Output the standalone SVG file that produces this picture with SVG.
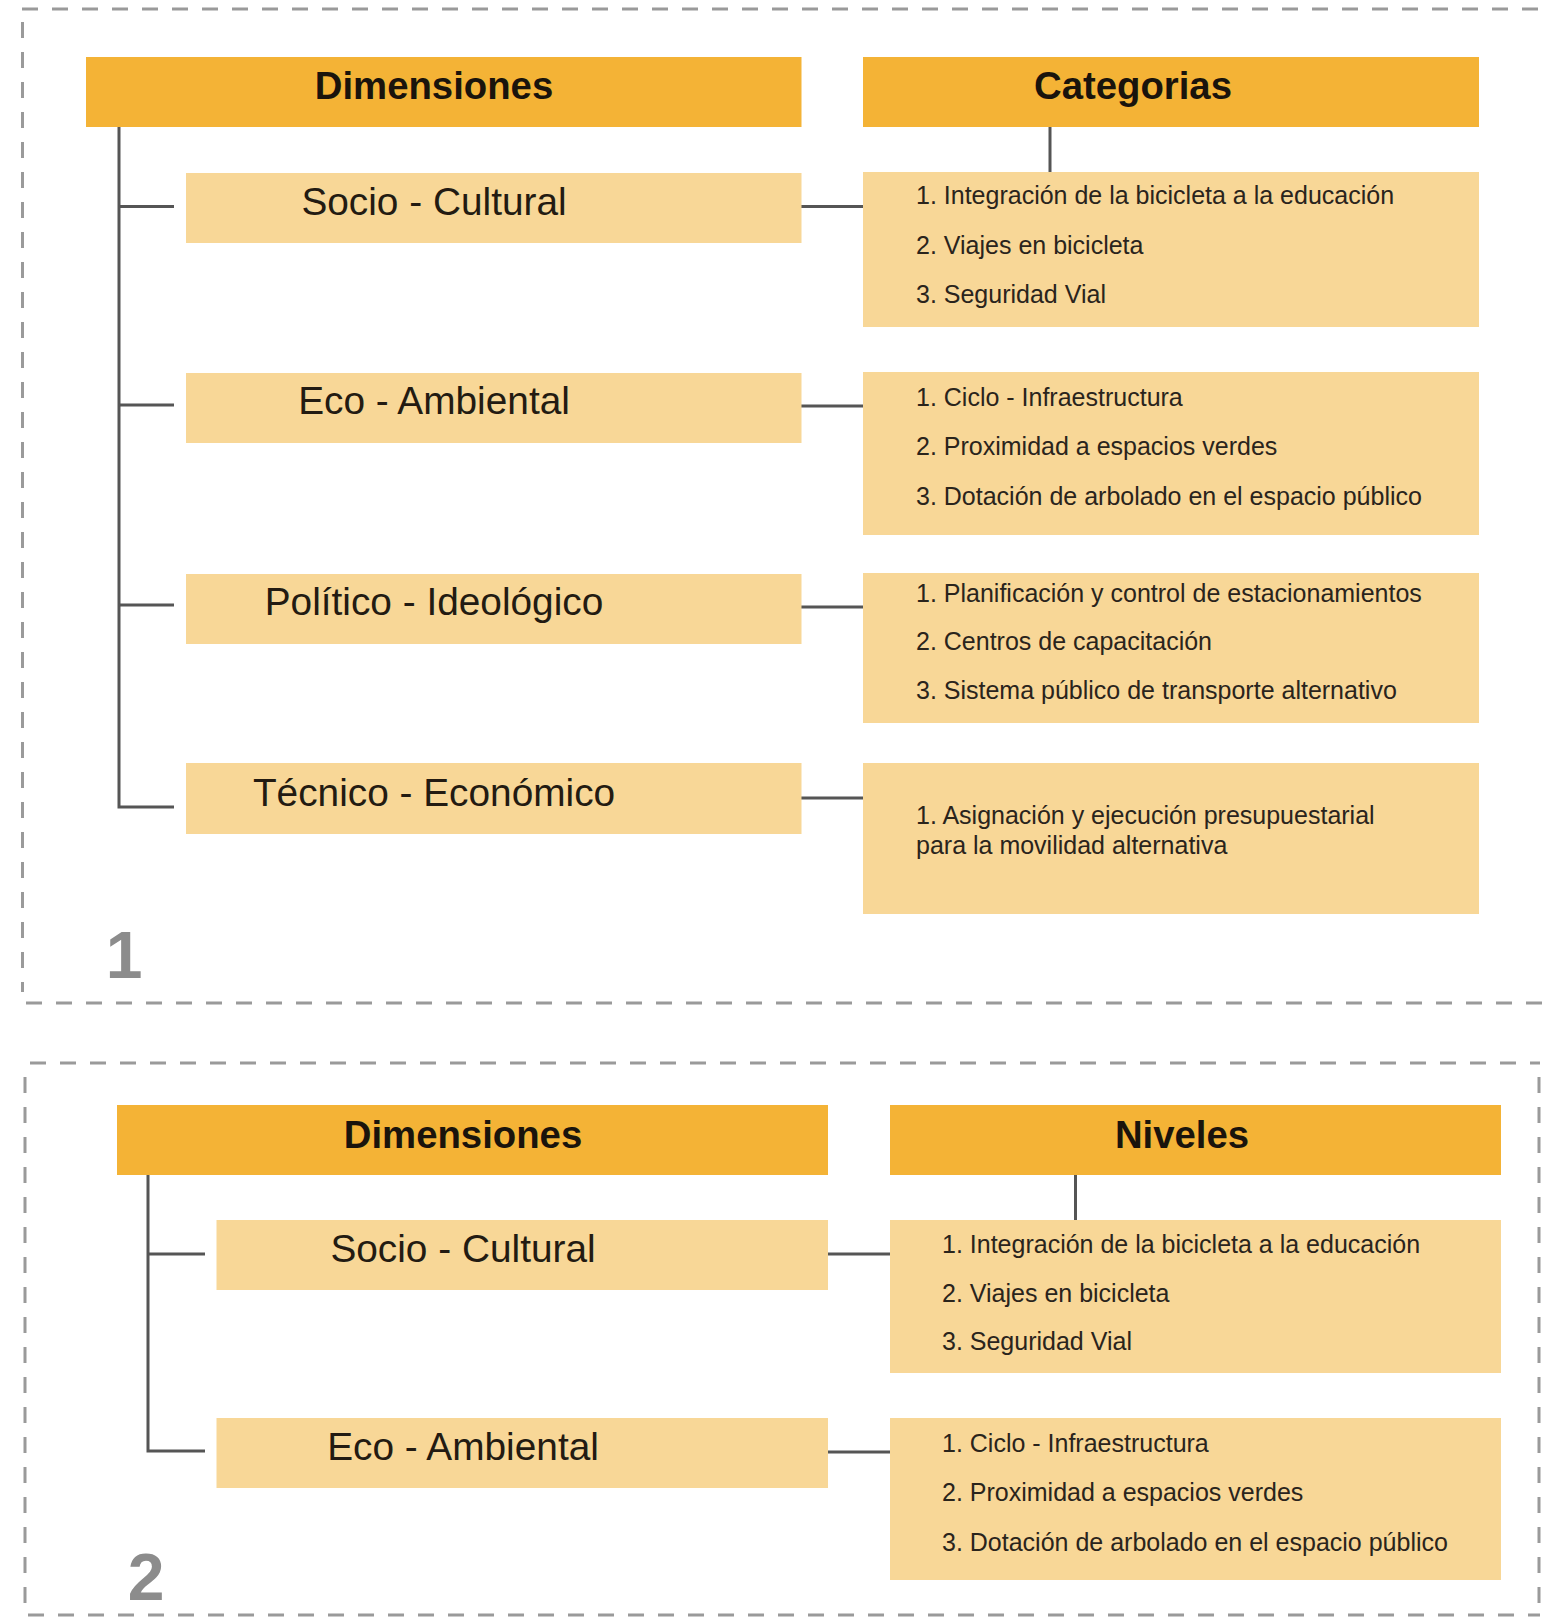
<svg xmlns="http://www.w3.org/2000/svg" width="1542" height="1619" viewBox="0 0 1542 1619">
<style>
.bg{fill:#ffffff}
.dash{stroke:#9a9a9a;stroke-width:3;stroke-dasharray:16 14;fill:none}
.hdr{fill:#F4B336}
.box{fill:#F8D797}
.conn{stroke:#555555;stroke-width:3;fill:none}
.ht{font-family:"Liberation Sans",Arial,sans-serif;font-weight:bold;font-size:38.3px;fill:#1a140c;text-anchor:middle}
.dt{font-family:"Liberation Sans",Arial,sans-serif;font-size:38.8px;fill:#231b12;text-anchor:middle}
.ct{font-family:"Liberation Sans",Arial,sans-serif;font-size:25px;fill:#2a241c}
.num{font-family:"Liberation Sans",Arial,sans-serif;font-weight:bold;font-size:66px;fill:#8c8c8c;text-anchor:middle}
</style>
<rect class="bg" x="0" y="0" width="1542" height="1619"/>
<g id="frames">
  <line class="dash" x1="22" y1="9" x2="1542" y2="9"/>
  <line class="dash" x1="22.5" y1="22" x2="22.5" y2="992"/>
  <line class="dash" x1="26" y1="1003" x2="1542" y2="1003"/>
  <line class="dash" x1="30" y1="1063" x2="1540" y2="1063"/>
  <line class="dash" x1="25" y1="1077" x2="25" y2="1610"/>
  <line class="dash" x1="1539" y1="1077" x2="1539" y2="1610"/>
  <line class="dash" x1="28" y1="1615" x2="1540" y2="1615"/>
</g>
<g id="connectors">
  <path class="conn" d="M119 127 V807 H174"/>
  <path class="conn" d="M119 206.5 H174 M119 405 H174 M119 605 H174"/>
  <path class="conn" d="M1050 127 V172"/>
  <path class="conn" d="M801 206.5 H863 M801 406 H863 M801 607 H863 M801 798 H863"/>
  <path class="conn" d="M148 1175 V1451 H205"/>
  <path class="conn" d="M148 1254 H205"/>
  <path class="conn" d="M1075.5 1175 V1220"/>
  <path class="conn" d="M828 1254 H890 M828 1452 H890"/>
</g>
<g id="p1-dimensiones"><rect class="hdr" x="86" y="57" width="715.5" height="70"/><text class="ht" x="434" y="99">Dimensiones</text></g>
<g id="p1-categorias"><rect class="hdr" x="863" y="57" width="616" height="70"/><text class="ht" x="1133" y="99">Categorias</text></g>
<g id="p1-socio"><rect class="box" x="186" y="173" width="615.5" height="70"/><text class="dt" x="434" y="215">Socio - Cultural</text></g>
<g id="p1-eco"><rect class="box" x="186" y="373" width="615.5" height="70"/><text class="dt" x="434" y="414">Eco - Ambiental</text></g>
<g id="p1-politico"><rect class="box" x="186" y="574" width="615.5" height="70"/><text class="dt" x="434" y="615">Político - Ideológico</text></g>
<g id="p1-tecnico"><rect class="box" x="186" y="763" width="615.5" height="71"/><text class="dt" x="434" y="806">Técnico - Económico</text></g>
<g id="p1-cat1"><rect class="box" x="863" y="172" width="616" height="155"/>
  <text class="ct" x="916" y="204">1. Integración de la bicicleta a la educación</text>
  <text class="ct" x="916" y="254">2. Viajes en bicicleta</text>
  <text class="ct" x="916" y="303">3. Seguridad Vial</text></g>
<g id="p1-cat2"><rect class="box" x="863" y="372" width="616" height="163"/>
  <text class="ct" x="916" y="406">1. Ciclo - Infraestructura</text>
  <text class="ct" x="916" y="455">2. Proximidad a espacios verdes</text>
  <text class="ct" x="916" y="505">3. Dotación de arbolado en el espacio público</text></g>
<g id="p1-cat3"><rect class="box" x="863" y="573" width="616" height="150"/>
  <text class="ct" x="916" y="602">1. Planificación y control de estacionamientos</text>
  <text class="ct" x="916" y="650">2. Centros de capacitación</text>
  <text class="ct" x="916" y="699">3. Sistema público de transporte alternativo</text></g>
<g id="p1-cat4"><rect class="box" x="863" y="763" width="616" height="151"/>
  <text class="ct" x="916" y="824">1. Asignación y ejecución presupuestarial</text>
  <text class="ct" x="916" y="854">para la movilidad alternativa</text></g>
<g id="label-1"><text class="num" x="124" y="978">1</text></g>
<g id="p2-dimensiones"><rect class="hdr" x="117" y="1105" width="711" height="70"/><text class="ht" x="463" y="1148">Dimensiones</text></g>
<g id="p2-niveles"><rect class="hdr" x="890" y="1105" width="611" height="70"/><text class="ht" x="1182" y="1148">Niveles</text></g>
<g id="p2-socio"><rect class="box" x="216.5" y="1220" width="611.5" height="70"/><text class="dt" x="463" y="1262">Socio - Cultural</text></g>
<g id="p2-eco"><rect class="box" x="216.5" y="1418" width="611.5" height="70"/><text class="dt" x="463" y="1460">Eco - Ambiental</text></g>
<g id="p2-niv1"><rect class="box" x="890" y="1220" width="611" height="153"/>
  <text class="ct" x="942" y="1253">1. Integración de la bicicleta a la educación</text>
  <text class="ct" x="942" y="1302">2. Viajes en bicicleta</text>
  <text class="ct" x="942" y="1350">3. Seguridad Vial</text></g>
<g id="p2-niv2"><rect class="box" x="890" y="1418" width="611" height="162"/>
  <text class="ct" x="942" y="1452">1. Ciclo - Infraestructura</text>
  <text class="ct" x="942" y="1501">2. Proximidad a espacios verdes</text>
  <text class="ct" x="942" y="1551">3. Dotación de arbolado en el espacio público</text></g>
<g id="label-2"><text class="num" x="146" y="1600">2</text></g>
</svg>
